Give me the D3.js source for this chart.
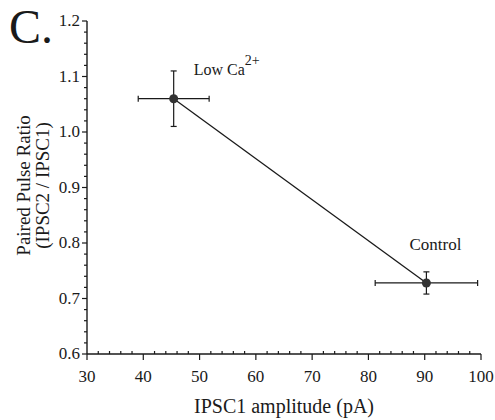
<!DOCTYPE html>
<html>
<head>
<meta charset="utf-8">
<script src="https://cdn.jsdelivr.net/npm/d3@7/dist/d3.min.js"></script>
</head>
<body style="margin:0">
<svg id="chart" width="495" height="420"></svg>
<script>
// Conditions and their mean IPSC1 amplitude / paired-pulse ratio with error bars
const conditions = ["Low Ca2+", "Control"];
const amplitude = [45.4, 90.3];
const amplitudeErr = [6.3, 9.1];
const ratio = [1.06, 0.728];
const ratioErr = [0.05, 0.02];

const xMajorTicks = [30, 40, 50, 60, 70, 80, 90, 100];
const yMajorTicks = [0.6, 0.7, 0.8, 0.9, 1.0, 1.1, 1.2];

const svg = d3.select("#chart");
const m = { left: 87, right: 14, top: 21, bottom: 66 };
const W = 495, H = 420;

const x = d3.scaleLinear().domain([30, 100]).range([m.left, W - m.right]);
const y = d3.scaleLinear().domain([0.6, 1.2]).range([H - m.bottom, m.top]);

const ink = "#1a1a1a";

function label(parent, str, size) {
  return parent.append("text").attr("font-family", "Times New Roman")
    .style("font-family", "Times New Roman").attr("font-size", size).attr("fill", ink).text(str);
}

// x axis: major ticks pointing down, minor ticks pointing up
const xAxis = svg.append("g").attr("transform", `translate(0,${y(0.6)})`);
xAxis.append("line").attr("x1", x(30)).attr("x2", x(100)).attr("stroke", ink).attr("stroke-width", 1.6);
xAxis.selectAll(".minor").data(d3.range(30, 100.01, 2).filter(v => v % 10 !== 0))
  .join("line").attr("x1", d => x(d)).attr("x2", d => x(d)).attr("y1", 0).attr("y2", -3)
  .attr("stroke", ink).attr("stroke-width", 1.2);
xAxis.selectAll(".major").data(xMajorTicks)
  .join("line").attr("x1", d => x(d)).attr("x2", d => x(d)).attr("y1", 0).attr("y2", 6)
  .attr("stroke", ink).attr("stroke-width", 1.2);
xMajorTicks.forEach(v => {
  label(xAxis, String(v), 17).attr("x", x(v)).attr("y", 28).attr("text-anchor", "middle");
});

// y axis: ticks pointing left
const yAxis = svg.append("g").attr("transform", `translate(${x(30)},0)`);
yAxis.append("line").attr("y1", y(0.6)).attr("y2", y(1.2)).attr("stroke", ink).attr("stroke-width", 1.4);
yAxis.selectAll(".minor").data(d3.range(0.6, 1.2001, 0.02).filter(v => Math.abs(v * 10 - Math.round(v * 10)) > 1e-6))
  .join("line").attr("y1", d => y(d)).attr("y2", d => y(d)).attr("x1", 0).attr("x2", -3)
  .attr("stroke", ink).attr("stroke-width", 1.2);
yAxis.selectAll(".major").data(yMajorTicks)
  .join("line").attr("y1", d => y(d)).attr("y2", d => y(d)).attr("x1", 0).attr("x2", -5)
  .attr("stroke", ink).attr("stroke-width", 1.2);
yMajorTicks.forEach(v => {
  label(yAxis, v.toFixed(1), 17).attr("x", -7).attr("y", y(v) + 5).attr("text-anchor", "end");
});

// axis titles
label(svg, "IPSC1 amplitude (pA)", 20).attr("x", (x(30) + x(100)) / 2).attr("y", 413).attr("text-anchor", "middle");
const yt = svg.append("g").attr("transform", `translate(0,${y(0.9) - 2}) rotate(-90)`);
label(yt, "Paired Pulse Ratio", 19).attr("x", 0).attr("y", 30).attr("text-anchor", "middle");
label(yt, "(IPSC2 / IPSC1)", 19).attr("x", 0).attr("y", 49).attr("text-anchor", "middle");

// panel letter
label(svg, "C.", 48).attr("x", 9).attr("y", 43);

// connecting line
const pts = conditions.map((c, i) => ({ c, x: amplitude[i], y: ratio[i], ex: amplitudeErr[i], ey: ratioErr[i] }));
svg.append("path").datum(pts)
  .attr("d", d3.line().x(d => x(d.x)).y(d => y(d.y)))
  .attr("fill", "none").attr("stroke", ink).attr("stroke-width", 1.3);

// error bars and points
const cap = 3;
const g = svg.selectAll(".pt").data(pts).join("g");
g.append("line").attr("x1", d => x(d.x - d.ex)).attr("x2", d => x(d.x + d.ex))
  .attr("y1", d => y(d.y)).attr("y2", d => y(d.y)).attr("stroke", ink).attr("stroke-width", 1.2);
g.append("line").attr("x1", d => x(d.x)).attr("x2", d => x(d.x))
  .attr("y1", d => y(d.y - d.ey)).attr("y2", d => y(d.y + d.ey)).attr("stroke", ink).attr("stroke-width", 1.2);
[-1, 1].forEach(s => {
  g.append("line").attr("x1", d => x(d.x + s * d.ex)).attr("x2", d => x(d.x + s * d.ex))
    .attr("y1", d => y(d.y) - cap).attr("y2", d => y(d.y) + cap).attr("stroke", ink).attr("stroke-width", 1.2);
  g.append("line").attr("x1", d => x(d.x) - cap).attr("x2", d => x(d.x) + cap)
    .attr("y1", d => y(d.y + s * d.ey)).attr("y2", d => y(d.y + s * d.ey)).attr("stroke", ink).attr("stroke-width", 1.2);
});
g.append("circle").attr("cx", d => x(d.x)).attr("cy", d => y(d.y)).attr("r", 4.5).attr("fill", "#333");

// condition labels
const low = label(svg, "", 16).attr("x", x(amplitude[0]) + 20).attr("y", y(ratio[0]) - 24);
low.append("tspan").text("Low Ca");
low.append("tspan").attr("dy", -10).attr("font-size", 14).text("2+");
label(svg, "Control", 17).attr("x", x(amplitude[1]) + 9).attr("y", y(ratio[1]) - 33).attr("text-anchor", "middle");
</script>
</body>
</html>
